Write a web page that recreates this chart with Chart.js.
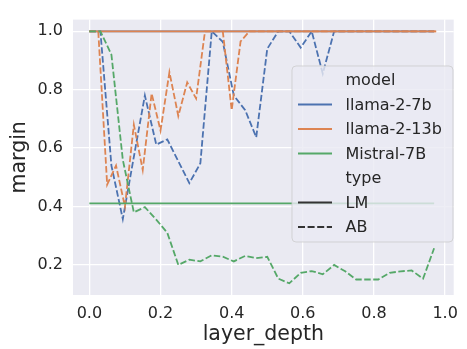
<!DOCTYPE html>
<html>
<head>
<meta charset="utf-8">
<script src="https://cdn.jsdelivr.net/npm/chart.js@4.4.1/dist/chart.umd.min.js"></script>
<style>
    body { margin: 0; background: #ffffff; }
    #wrap { width: 467px; height: 349px; }
</style>
</head>
<body>
<div id="wrap"><canvas id="marginChart" width="467" height="349"></canvas></div>
<script>
// layer depth positions (32 layers for 7B models, 40 for 13b)
const depth32 = [0, 0.031, 0.062, 0.094, 0.125, 0.156, 0.188, 0.219, 0.25, 0.281, 0.312, 0.344, 0.375, 0.406, 0.438, 0.469,
    0.5, 0.531, 0.562, 0.594, 0.625, 0.656, 0.688, 0.719, 0.75, 0.781, 0.812, 0.844, 0.875, 0.906, 0.938, 0.969];
const depth40 = [0, 0.025, 0.05, 0.075, 0.1, 0.125, 0.15, 0.175, 0.2, 0.225, 0.25, 0.275, 0.3, 0.325, 0.35, 0.375, 0.4, 0.425, 0.45, 0.475,
    0.5, 0.525, 0.55, 0.575, 0.6, 0.625, 0.65, 0.675, 0.7, 0.725, 0.75, 0.775, 0.8, 0.825, 0.85, 0.875, 0.9, 0.925, 0.95, 0.975];

// margin values, type LM
const llama7bLM = [1, 1, 1, 1, 1, 1, 1, 1, 1, 1, 1, 1, 1, 1, 1, 1, 1, 1, 1, 1, 1, 1, 1, 1, 1, 1, 1, 1, 1, 1, 1, 1];
const llama13bLM = [1, 1, 1, 1, 1, 1, 1, 1, 1, 1, 1, 1, 1, 1, 1, 1, 1, 1, 1, 1, 1, 1, 1, 1, 1, 1, 1, 1, 1, 1, 1, 1, 1, 1, 1, 1, 1, 1, 1, 1];
const mistralLM = [0.411, 0.411, 0.411, 0.411, 0.411, 0.411, 0.411, 0.411, 0.411, 0.411, 0.411, 0.411, 0.411, 0.411, 0.411, 0.411,
    0.411, 0.411, 0.411, 0.411, 0.411, 0.411, 0.411, 0.411, 0.411, 0.411, 0.411, 0.411, 0.411, 0.411, 0.411, 0.411];

// margin values, type AB
const llama7bAB = [1, 1, 0.54, 0.357, 0.57, 0.78, 0.612, 0.63, 0.555, 0.48, 0.548, 1, 0.964, 0.78, 0.73, 0.637,
    0.94, 1, 1, 0.944, 1, 0.855, 1, 1, 1, 1, 1, 1, 1, 1, 1, 1];
const llama13bAB = [1, 1, 0.475, 0.54, 0.4, 0.68, 0.525, 0.787, 0.66, 0.86, 0.71, 0.825, 0.77, 1, 1, 1, 0.73, 0.965, 1, 1,
    1, 1, 1, 1, 1, 1, 1, 1, 1, 1, 1, 1, 1, 1, 1, 1, 1, 1, 1, 1];
const mistralAB = [1, 1, 0.92, 0.56, 0.38, 0.398, 0.355, 0.31, 0.2, 0.218, 0.212, 0.233, 0.228, 0.212, 0.231, 0.223,
    0.228, 0.153, 0.137, 0.173, 0.179, 0.168, 0.2, 0.178, 0.15, 0.15, 0.15, 0.173, 0.178, 0.181, 0.153, 0.257];

const xTicks = [0, 0.2, 0.4, 0.6, 0.8, 1.0];
const yTicks = [0.2, 0.4, 0.6, 0.8, 1.0];

const models = ['llama-2-7b', 'llama-2-13b', 'Mistral-7B'];
const types = ['LM', 'AB'];

const BLUE = '#4C72B0', ORANGE = '#DD8452', GREEN = '#55A868';
const DASH = [6.5, 2.5];
const FONT = "'DejaVu Sans', sans-serif";

function pts(xs, ys) {
    return xs.map((x, i) => ({ x: x, y: ys[i] }));
}

function line(data, color, dashed, order) {
    return {
        data: data,
        borderColor: color,
        borderWidth: 1.8,
        borderDash: dashed ? DASH : [],
        pointRadius: 0,
        tension: 0,
        fill: false,
        order: order
    };
}

// plot background
const bgPlugin = {
    id: 'plotBg',
    beforeDraw(chart) {
        const a = chart.chartArea;
        const ctx = chart.ctx;
        ctx.save();
        ctx.fillStyle = '#EAEAF2';
        ctx.fillRect(a.left, a.top, a.right - a.left, a.bottom - a.top);
        ctx.restore();
    }
};

// seaborn style legend inside the axes
const legendPlugin = {
    id: 'innerLegend',
    afterDraw(chart) {
        const ctx = chart.ctx;
        const bx = 292, by = 66, bw = 161, bh = 176;
        ctx.save();
        ctx.beginPath();
        ctx.roundRect(bx, by, bw, bh, 4);
        ctx.fillStyle = 'rgba(234,234,242,0.8)';
        ctx.fill();
        ctx.strokeStyle = 'rgba(204,204,204,0.8)';
        ctx.lineWidth = 1;
        ctx.stroke();

        const rows = [
            { text: 'model' },
            { text: models[0], color: BLUE },
            { text: models[1], color: ORANGE },
            { text: models[2], color: GREEN },
            { text: 'type' },
            { text: types[0], color: '#333333' },
            { text: types[1], color: '#333333', dashed: true }
        ];
        ctx.font = '16px ' + FONT;
        ctx.textBaseline = 'middle';
        ctx.textAlign = 'left';
        rows.forEach((r, i) => {
            const y = 80 + i * 24.5;
            if (r.color) {
                ctx.beginPath();
                ctx.setLineDash(r.dashed ? [7, 2.6] : []);
                ctx.strokeStyle = r.color;
                ctx.lineWidth = 2;
                ctx.moveTo(298, y);
                ctx.lineTo(332, y);
                ctx.stroke();
            }
            ctx.setLineDash([]);
            ctx.fillStyle = '#262626';
            ctx.fillText(r.text, 345.5, y + 1);
        });
        ctx.restore();
    }
};

const ctx = document.getElementById('marginChart').getContext('2d');
new Chart(ctx, {
    type: 'line',
    data: {
        datasets: [
            line(pts(depth32, llama7bLM), BLUE, false, 5),
            line(pts(depth32, llama7bAB), BLUE, true, 4),
            line(pts(depth40, llama13bLM), ORANGE, false, 3),
            line(pts(depth40, llama13bAB), ORANGE, true, 2),
            line(pts(depth32, mistralLM), GREEN, false, 1),
            line(pts(depth32, mistralAB), GREEN, true, 0)
        ]
    },
    options: {
        responsive: false,
        animation: false,
        layout: { padding: { left: 0, right: 6, top: 12, bottom: 0 } },
        plugins: {
            legend: { display: false },
            tooltip: { enabled: false }
        },
        scales: {
            x: {
                type: 'linear',
                min: -0.046,
                max: 1.024,
                afterBuildTicks: (scale) => { scale.ticks = xTicks.map(v => ({ value: v })); },
                afterFit: (scale) => { scale.height = 54; },
                grid: { color: '#ffffff', lineWidth: 1.3, drawTicks: false },
                border: { display: false },
                ticks: {
                    padding: 9,
                    color: '#262626',
                    font: { family: FONT, size: 16 },
                    callback: (v) => v.toFixed(1)
                },
                title: {
                    display: true,
                    text: 'layer_depth',
                    color: '#262626',
                    font: { family: FONT, size: 20.5 },
                    padding: { top: 0, bottom: 2 }
                }
            },
            y: {
                min: 0.097,
                max: 1.04,
                afterBuildTicks: (scale) => { scale.ticks = yTicks.map(v => ({ value: v })); },
                afterFit: (scale) => { scale.width = 73; },
                grid: { color: '#ffffff', lineWidth: 1.3, drawTicks: false },
                border: { display: false },
                ticks: {
                    padding: 10,
                    color: '#262626',
                    font: { family: FONT, size: 16 },
                    callback: (v) => v.toFixed(1)
                },
                title: {
                    display: true,
                    text: 'margin',
                    color: '#262626',
                    font: { family: FONT, size: 20.5 },
                    padding: { top: 7, bottom: 0 }
                }
            }
        }
    },
    plugins: [bgPlugin, legendPlugin]
});
</script>
</body>
</html>
